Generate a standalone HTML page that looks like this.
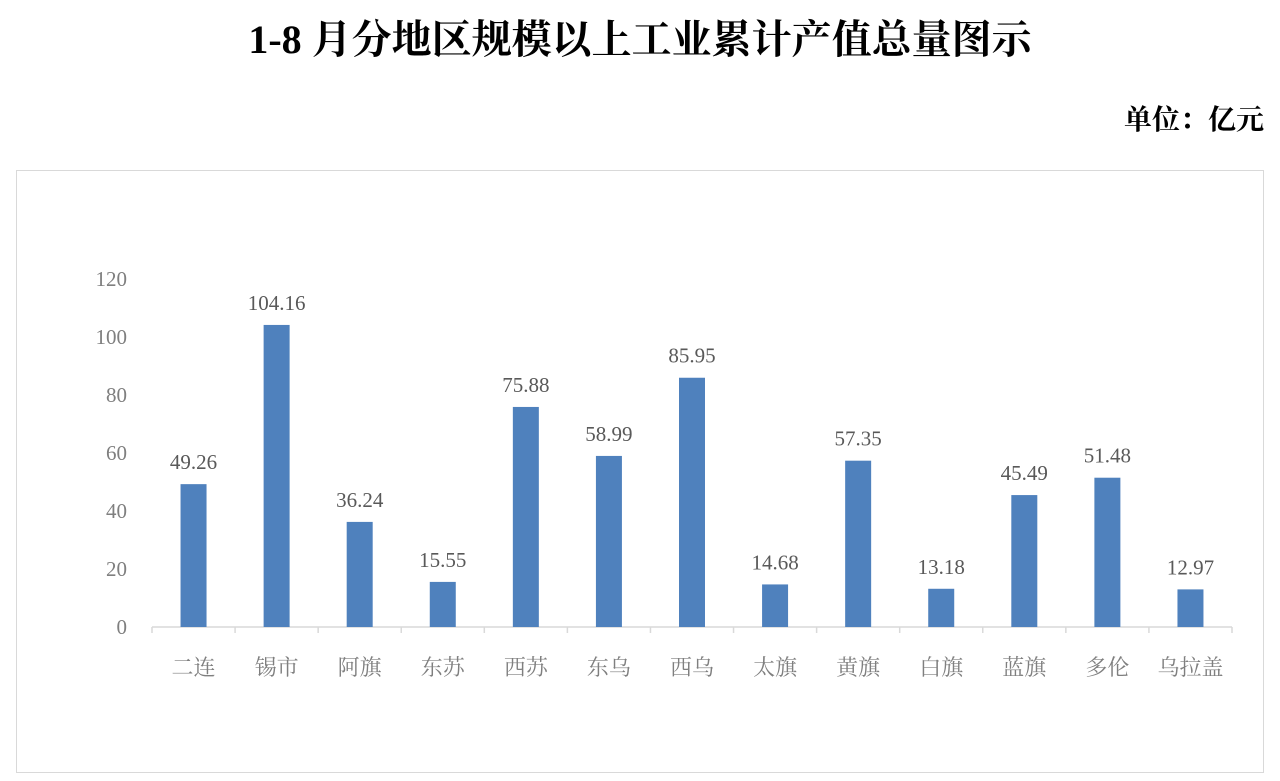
<!DOCTYPE html>
<html><head><meta charset="utf-8"><style>
body{margin:0;background:#fff;width:1280px;height:781px;overflow:hidden}
#title{position:absolute;left:0;width:1280px;top:8px;text-align:center;font:bold 40px "Liberation Serif","Noto Serif CJK SC",serif;color:#000}
#unit{position:absolute;right:16px;top:98px;font:bold 28px "Liberation Serif","Noto Serif CJK SC",serif;color:#000}
#box{position:absolute;left:16px;top:170px;width:1246px;height:601px;border:1px solid #d9d9d9}
svg{position:absolute;left:0;top:0}
</style></head><body>
<div id="title">1-8 月分地区规模以上工业累计产值总量图示</div>
<div id="unit">单位：亿元</div>
<div id="box"></div>
<svg id="chart" width="1280" height="781"></svg>
<script>
const categories=["二连","锡市","阿旗","东苏","西苏","东乌","西乌","太旗","黄旗","白旗","蓝旗","多伦","乌拉盖"];
const values=[49.26,104.16,36.24,15.55,75.88,58.99,85.95,14.68,57.35,13.18,45.49,51.48,12.97];
const valueLabels=["49.26","104.16","36.24","15.55","75.88","58.99","85.95","14.68","57.35","13.18","45.49","51.48","12.97"];
const yTicks=[0,20,40,60,80,100,120];
const svg=document.getElementById('chart');const NS='http://www.w3.org/2000/svg';
const x0=152,x1=1232,y0=627,yTop=279,ymax=120;
const band=(x1-x0)/categories.length;
const y=v=>y0-(v/ymax)*(y0-yTop);
const xc=i=>x0+band*(i+0.5);
function mk(t,a){const e=document.createElementNS(NS,t);for(const k in a)e.setAttribute(k,a[k]);svg.appendChild(e);return e;}
const font='"Liberation Serif","Noto Serif CJK SC",serif';
yTicks.forEach(v=>{const t=mk('text',{x:127,y:y(v)+7,'text-anchor':'end','font-size':21,fill:'#7f7f7f','font-family':font});t.textContent=v;

});
const ax=mk('line',{x1:x0,x2:x1,y1:y0,y2:y0,stroke:'#d9d9d9','stroke-width':1.5});


for(let i=0;i<=categories.length;i++){const l=mk('line',{x1:x0+band*i,x2:x0+band*i,y1:y0,y2:y0+6,stroke:'#d9d9d9','stroke-width':1.5});

}
categories.forEach((c,i)=>{
const b=mk('rect',{x:xc(i)-13,y:y(values[i]),width:26,height:y0-y(values[i]),fill:'#4f81bd'});


const v=mk('text',{x:xc(i),y:y(values[i])-15,'text-anchor':'middle','font-size':21,fill:'#595959','font-family':font});v.textContent=valueLabels[i];


const t=mk('text',{x:xc(i),y:675,'text-anchor':'middle','font-size':22,fill:'#7f7f7f','font-family':font});t.textContent=c;


});
</script>
</body></html>
